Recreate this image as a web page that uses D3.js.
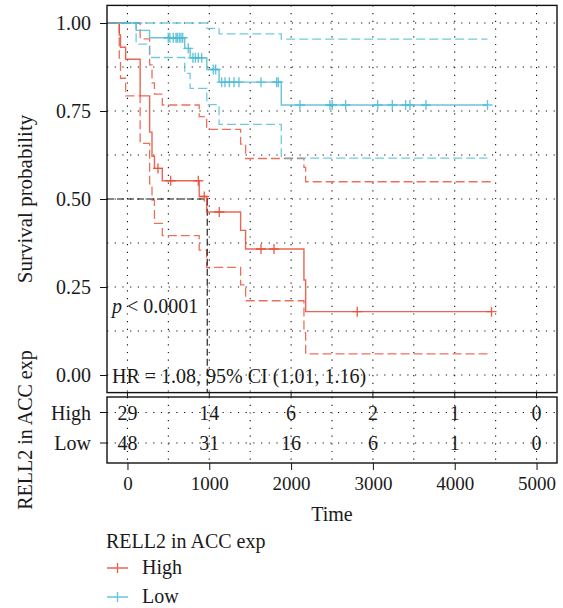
<!DOCTYPE html>
<html>
<head>
<meta charset="utf-8">
<script src="https://cdn.jsdelivr.net/npm/d3@7"></script>
<style>
body { margin: 0; background: #fff; }
text { font-family: "Liberation Serif", "DejaVu Serif", serif; fill: #1a1a1a; }
</style>
</head>
<body>
<svg id="km" width="563" height="608"></svg>
<script>
// KM curves (time in days)
var groups = ["High", "Low"];
var colors = {High: "#E64B35", Low: "#4DBBD5"};

var highTime  = [-245, -100, -85, -22, 155, 271, 300, 330, 426, 877, 968, 1383, 1444, 2157, 2178];
var highSurv  = [1, 0.966, 0.931, 0.897, 0.793, 0.690, 0.621, 0.587, 0.552, 0.507, 0.463, 0.411, 0.358, 0.270, 0.180];
var highUpper = [1, 1, 1, 1, 0.955, 0.881, 0.830, 0.798, 0.767, 0.734, 0.698, 0.656, 0.615, 0.590, 0.549];
var highLower = [1, 0.900, 0.843, 0.793, 0.658, 0.543, 0.497, 0.431, 0.396, 0.355, 0.306, 0.256, 0.211, 0.120, 0.060];
var highEnd = 4450;
var highCensor = [373, 528, 866, 939, 1122, 1632, 1791, 2809, 4450];

var lowTime  = [-245, 106, 270, 700, 766, 970, 1120, 1880];
var lowSurv  = [1, 0.979, 0.958, 0.928, 0.901, 0.868, 0.832, 0.767];
var lowUpper = [1, 1, 1, 1, 1, 0.985, 0.969, 0.954];
var lowLower = [1, 0.940, 0.902, 0.857, 0.814, 0.768, 0.712, 0.616];
var lowEnd = 4400;
var lowCensor = [499, 519, 560, 593, 609, 633, 654, 675, 743, 800, 830, 866, 907, 1049, 1078,
                 1151, 1192, 1245, 1302, 1363, 1632, 1823, 1843, 2108, 2475, 2503, 2667, 3058,
                 3237, 3400, 3453, 3648, 4400];

var medianTime = 975;

// number at risk
var riskTimes = [0, 1000, 2000, 3000, 4000, 5000];
var riskHigh = [29, 14, 6, 2, 1, 0];
var riskLow  = [48, 31, 16, 6, 1, 0];

var yTicks = [0, 0.25, 0.5, 0.75, 1];
var xTicks = [0, 1000, 2000, 3000, 4000, 5000];

var svg = d3.select("#km");
var pL = 107, pR = 557, pT = 5.4, pB = 392.6;
var tTop = 397, tBottom = 463;

var x = d3.scaleLinear().domain([-250, 5250]).range([pL, pR]);
var y = d3.scaleLinear().domain([-0.05, 1.05]).range([pB, pT]);

var data = {
  High: {t: highTime, s: highSurv, u: highUpper, l: highLower, end: highEnd, c: highCensor},
  Low:  {t: lowTime,  s: lowSurv,  u: lowUpper,  l: lowLower,  end: lowEnd,  c: lowCensor}
};

function pts(g, key) {
  var d = data[g];
  var p = d.t.map(function(t, i) { return [t, d[key][i]]; });
  p.push([d.end, d[key][d[key].length - 1]]);
  return p;
}
function survAt(g, t) {
  var d = data[g];
  var i = d3.bisectRight(d.t, t) - 1;
  return d.s[Math.max(i, 0)];
}

var line = d3.line()
  .x(function(d) { return x(d[0]); })
  .y(function(d) { return y(d[1]); })
  .curve(d3.curveStepAfter);

// dotted grid, major + minor
var gridX = d3.range(0, 5001, 500);
var gridY = d3.range(0, 1.001, 0.125);
var grid = svg.append("g").attr("stroke", "#111").attr("stroke-width", 1.1)
  .attr("stroke-dasharray", "1.2,6.5");
grid.selectAll(".gx").data(gridX).enter().append("line")
  .attr("x1", function(d) { return x(d); }).attr("x2", function(d) { return x(d); })
  .attr("y1", pT).attr("y2", pB);
grid.selectAll(".gy").data(gridY).enter().append("line")
  .attr("x1", pL).attr("x2", pR)
  .attr("y1", function(d) { return y(d); }).attr("y2", function(d) { return y(d); });

// confidence bands (dashed)
groups.forEach(function(g) {
  ["u", "l"].forEach(function(k) {
    svg.append("path").attr("d", line(pts(g, k)))
      .attr("fill", "none").attr("stroke", colors[g]).attr("stroke-opacity", 0.8)
      .attr("stroke-width", 1.3).attr("stroke-dasharray", "9,4");
  });
});

// median line
svg.append("path")
  .attr("d", "M" + x(-250) + "," + y(0.5) + "H" + x(medianTime) + "V" + pB)
  .attr("fill", "none").attr("stroke", "#111").attr("stroke-width", 1.1)
  .attr("stroke-dasharray", "7,3");

// survival curves + censor marks
groups.forEach(function(g) {
  svg.append("path").attr("d", line(pts(g, "s")))
    .attr("fill", "none").attr("stroke", colors[g]).attr("stroke-opacity", 0.85)
    .attr("stroke-width", 1.4);
  var m = svg.append("g").attr("stroke", colors[g]).attr("stroke-opacity", 0.85).attr("stroke-width", 1.4);
  m.selectAll("path").data(data[g].c).enter().append("path")
    .attr("d", function(t) {
      var cx = x(t), cy = y(survAt(g, t));
      return "M" + (cx - 5) + "," + cy + "H" + (cx + 5) + "M" + cx + "," + (cy - 5) + "V" + (cy + 5);
    });
});

// panel border + axes
svg.append("rect").attr("x", pL).attr("y", pT).attr("width", pR - pL).attr("height", pB - pT)
  .attr("fill", "none").attr("stroke", "#111").attr("stroke-width", 1.4);

var yAxis = svg.append("g").attr("transform", "translate(" + pL + ",0)")
  .call(d3.axisLeft(y).tickValues(yTicks).tickFormat(d3.format(".2f")).tickSizeOuter(0).tickSize(7).tickPadding(9));
yAxis.select(".domain").remove();
yAxis.selectAll("text").style("font-size", "20px").attr("font-family", null);
yAxis.selectAll("line").attr("stroke", "#111");

svg.append("g").attr("transform", "translate(0," + pB + ")")
  .selectAll("line").data(xTicks).enter().append("line")
  .attr("x1", function(d) { return x(d); }).attr("x2", function(d) { return x(d); })
  .attr("y1", 0).attr("y2", 4).attr("stroke", "#111");

svg.append("text").attr("transform", "translate(32," + ((pT + pB) / 2) + ") rotate(-90)")
  .attr("text-anchor", "middle").style("font-size", "21px").text("Survival probability");

// annotations
svg.append("text").attr("x", 112).attr("y", 313).style("font-size", "20px")
  .html('<tspan font-style="italic">p</tspan> &lt; 0.0001');
svg.append("text").attr("x", 112).attr("y", 383).style("font-size", "20px")
  .text("HR = 1.08, 95% CI (1.01, 1.16)");

// risk table
var rowY = {High: 412.5, Low: 443};

var tg = svg.append("g").attr("stroke", "#111").attr("stroke-width", 1.1).attr("stroke-dasharray", "1.2,6.5");
tg.selectAll(".rx").data(gridX).enter().append("line")
  .attr("x1", function(d) { return x(d); }).attr("x2", function(d) { return x(d); })
  .attr("y1", tTop).attr("y2", tBottom);
tg.selectAll(".ry").data(groups).enter().append("line")
  .attr("x1", pL).attr("x2", pR)
  .attr("y1", function(d) { return rowY[d]; }).attr("y2", function(d) { return rowY[d]; });

svg.append("rect").attr("x", pL).attr("y", tTop).attr("width", pR - pL).attr("height", tBottom - tTop)
  .attr("fill", "none").attr("stroke", "#111").attr("stroke-width", 1.4);

[["High", riskHigh], ["Low", riskLow]].forEach(function(r) {
  svg.selectAll(".n" + r[0]).data(r[1]).enter().append("text")
    .attr("x", function(d, i) { return x(riskTimes[i]); })
    .attr("y", rowY[r[0]] + 7)
    .attr("text-anchor", "middle").style("font-size", "20px")
    .text(function(d) { return d; });
  svg.append("text").attr("x", 91).attr("y", rowY[r[0]] + 7).attr("text-anchor", "end")
    .style("font-size", "20px").text(r[0]);
  svg.append("line").attr("x1", 100).attr("x2", pL).attr("y1", rowY[r[0]]).attr("y2", rowY[r[0]])
    .attr("stroke", "#111");
});

var xAxis = svg.append("g").attr("transform", "translate(0," + tBottom + ")")
  .call(d3.axisBottom(x).tickValues(xTicks).tickFormat(d3.format("d")).tickSize(7).tickPadding(7).tickSizeOuter(0));
xAxis.select(".domain").remove();
xAxis.selectAll("text").style("font-size", "19px").attr("font-family", null);
xAxis.selectAll("line").attr("stroke", "#111");

svg.append("text").attr("x", (pL + pR) / 2).attr("y", 521).attr("text-anchor", "middle")
  .style("font-size", "20px").text("Time");

svg.append("text").attr("transform", "translate(32," + ((tTop + tBottom) / 2) + ") rotate(-90)")
  .attr("text-anchor", "middle").style("font-size", "20px").text("RELL2 in ACC exp");

// legend
var lg = svg.append("g");
lg.append("text").attr("x", 106).attr("y", 548).style("font-size", "20px").text("RELL2 in ACC exp");
groups.forEach(function(g, i) {
  var cy = 568 + i * 29;
  lg.append("path").attr("d", "M107," + cy + "H128M117.5," + (cy - 5) + "V" + (cy + 5))
    .attr("stroke", colors[g]).attr("stroke-opacity", 0.85).attr("stroke-width", 1.4).attr("fill", "none");
  lg.append("text").attr("x", 142).attr("y", cy + 6).style("font-size", "20px").text(g);
});
</script>
</body>
</html>
